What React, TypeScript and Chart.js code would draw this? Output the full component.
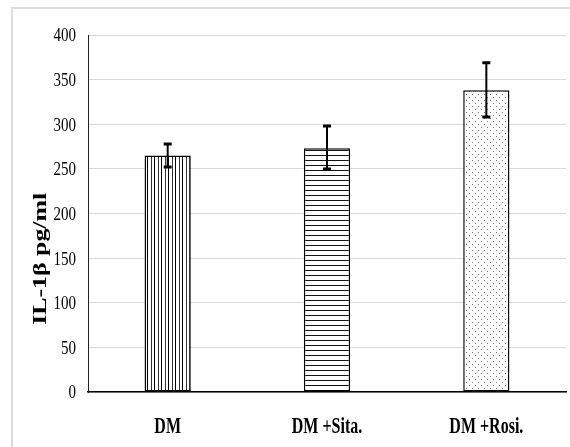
import React, { useEffect, useRef } from "react";
import { Chart, registerables } from "chart.js";

Chart.register(...registerables);

const categories = ["DM", "DM +Sita.", "DM +Rosi."];
const values = [265, 273, 338];
const errorHigh = [278, 298, 369];
const errorLow = [252, 250, 308];
const yMin = 0;
const yMax = 400;
const yStep = 50;
const yTitle = "IL-1β pg/ml";
const patternKinds = ["vertical", "horizontal", "dots"];

function makePattern(kind: string): CanvasPattern | string {
  const c = document.createElement("canvas");
  const ctx = c.getContext("2d");
  if (!ctx) return "#fff";
  if (kind === "vertical") {
    c.width = 7;
    c.height = 4;
    ctx.fillStyle = "#fff";
    ctx.fillRect(0, 0, 7, 4);
    ctx.fillStyle = "#000";
    ctx.fillRect(0, 0, 1, 4);
    ctx.fillStyle = "#333";
    ctx.fillRect(4, 0, 1, 4);
  } else if (kind === "horizontal") {
    c.width = 4;
    c.height = 5;
    ctx.fillStyle = "#fff";
    ctx.fillRect(0, 0, 4, 5);
    ctx.fillStyle = "#111";
    ctx.fillRect(0, 0, 4, 1);
  } else {
    c.width = 6;
    c.height = 6;
    ctx.fillStyle = "#fff";
    ctx.fillRect(0, 0, 6, 6);
    ctx.fillStyle = "#777";
    ctx.fillRect(1, 1, 1, 1);
    ctx.fillRect(4, 4, 1, 1);
  }
  return ctx.createPattern(c, "repeat") || "#fff";
}

const errorBarPlugin = {
  id: "errorBars",
  afterDatasetsDraw(chart: any) {
    const { ctx } = chart;
    const meta = chart.getDatasetMeta(0);
    const yScale = chart.scales.y;
    ctx.save();
    ctx.strokeStyle = "#000";
    meta.data.forEach((bar: any, i: number) => {
      const x = bar.x;
      const yh = yScale.getPixelForValue(errorHigh[i]);
      const yl = yScale.getPixelForValue(errorLow[i]);
      ctx.lineWidth = 2;
      ctx.beginPath();
      ctx.moveTo(x, yh);
      ctx.lineTo(x, yl);
      ctx.stroke();
      ctx.lineWidth = 3;
      ctx.beginPath();
      ctx.moveTo(x - 4, yh);
      ctx.lineTo(x + 4, yh);
      ctx.moveTo(x - 4, yl);
      ctx.lineTo(x + 4, yl);
      ctx.stroke();
    });
    ctx.restore();
  },
};

// Draws the axis texts slightly stretched vertically, like the reference
const stretchedTextPlugin = {
  id: "stretchedText",
  afterDraw(chart: any) {
    const { ctx, chartArea } = chart;
    const yScale = chart.scales.y;
    const xScale = chart.scales.x;
    ctx.save();
    ctx.fillStyle = "#000";

    // y tick labels
    ctx.font = "15px 'Liberation Serif', serif";
    ctx.textAlign = "right";
    ctx.textBaseline = "middle";
    yScale.ticks.forEach((t: any, i: number) => {
      const y = yScale.getPixelForTick(i);
      ctx.save();
      ctx.translate(chartArea.left - 12, y + 1.5);
      ctx.scale(1, 1.25);
      ctx.fillText(String(t.label), 0, 0);
      ctx.restore();
    });

    // x category labels
    ctx.font = "bold 16px 'Liberation Serif', serif";
    ctx.textAlign = "center";
    ctx.textBaseline = "middle";
    xScale.ticks.forEach((t: any, i: number) => {
      const x = xScale.getPixelForTick(i);
      ctx.save();
      ctx.translate(x, chartArea.bottom + 35);
      ctx.scale(1, 1.5);
      ctx.fillText(String(categories[t.value] ?? t.label), 0, 0);
      ctx.restore();
    });

    // y title
    ctx.font = "bold 18px 'Liberation Serif', serif";
    const w = ctx.measureText(yTitle).width;
    const cy = chartArea.top + (chartArea.bottom - chartArea.top) * 0.627;
    ctx.save();
    ctx.translate(41, cy);
    ctx.rotate(-Math.PI / 2);
    ctx.scale(132 / w, 1);
    ctx.textAlign = "center";
    ctx.textBaseline = "middle";
    ctx.fillText(yTitle, 0, 0);
    ctx.restore();

    ctx.restore();
  },
};

export default function App() {
  const canvasRef = useRef<HTMLCanvasElement | null>(null);

  useEffect(() => {
    if (!canvasRef.current) return;
    const patterns = patternKinds.map(makePattern);
    const chart = new Chart(canvasRef.current, {
      type: "bar",
      data: {
        labels: categories,
        datasets: [
          {
            data: values,
            backgroundColor: patterns as any,
            borderColor: "#000",
            borderWidth: 1.5,
            borderSkipped: false,
            barPercentage: 0.29,
            categoryPercentage: 1,
          },
        ],
      },
      options: {
        animation: false,
        responsive: false,
        maintainAspectRatio: false,
        layout: { padding: { top: 35, right: 4, left: 0, bottom: 0 } },
        plugins: {
          legend: { display: false },
          tooltip: { enabled: false },
          title: { display: false },
        },
        scales: {
          x: {
            grid: { display: false, drawTicks: false },
            border: { display: true, color: "#000", width: 1.5 },
            ticks: {
              color: "rgba(0,0,0,0)",
              padding: 24,
              font: { family: "'Liberation Serif', serif", size: 16, weight: "bold" },
            },
            afterFit(scale: any) {
              scale.height = 55;
            },
          },
          y: {
            min: yMin,
            max: yMax,
            grid: { color: "#d9d9d9", lineWidth: 1, drawTicks: false },
            border: { display: true, color: "#222", width: 1 },
            ticks: {
              stepSize: yStep,
              color: "rgba(0,0,0,0)",
              padding: 11,
              font: { family: "'Liberation Serif', serif", size: 15 },
            },
            afterFit(scale: any) {
              scale.width = 88;
            },
          },
        },
      },
      plugins: [errorBarPlugin, stretchedTextPlugin],
    });
    return () => chart.destroy();
  }, []);

  return (
    <div
      style={{
        position: "fixed",
        left: 0,
        top: 0,
        width: 570,
        height: 447,
        overflow: "hidden",
        background: "#fff",
      }}
    >
      <div
        style={{
          position: "absolute",
          left: 11,
          top: 7,
          width: 600,
          height: 500,
          borderLeft: "2px solid #dedede",
          borderTop: "2px solid #dedede",
        }}
      />
      <canvas
        ref={canvasRef}
        width={570}
        height={447}
        style={{ position: "absolute", left: 0, top: 0 }}
      />
    </div>
  );
}
